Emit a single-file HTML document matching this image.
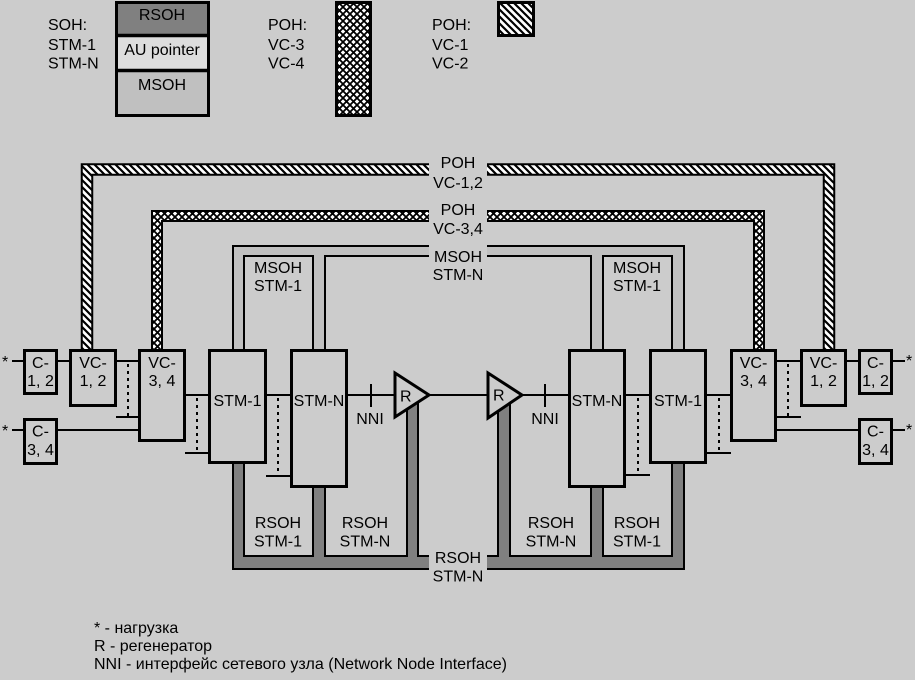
<!DOCTYPE html>
<html><head><meta charset="utf-8"><style>
html,body{margin:0;padding:0;background:#cccccc;width:915px;height:680px;overflow:hidden}
svg{display:block}
text{font-family:"Liberation Sans","DejaVu Sans",sans-serif;font-size:16px;fill:#000}
</style></head><body>
<svg width="915" height="680" viewBox="0 0 915 680" xmlns="http://www.w3.org/2000/svg">
<defs>
<pattern id="hat" width="7" height="7" patternUnits="userSpaceOnUse">
<rect width="7" height="7" fill="#fff"/>
<path d="M-2,-2 L9,9 M-2,5 L2,9 M5,-2 L9,2" stroke="#000" stroke-width="2.2"/>
</pattern>
<pattern id="crs" width="7" height="7" patternUnits="userSpaceOnUse">
<rect width="7" height="7" fill="#fff"/>
<path d="M0,0 L7,7 M7,0 L0,7" stroke="#000" stroke-width="1.8"/>
</pattern>
</defs>
<rect width="915" height="680" fill="#cccccc"/>

<!-- Legend -->
<text x="48" y="30">SOH:</text>
<text x="48" y="50">STM-1</text>
<text x="48" y="68.5">STM-N</text>
<rect x="116.5" y="2.5" width="92" height="33" fill="#808080"/>
<rect x="116.5" y="36" width="92" height="34" fill="#dddddd"/>
<rect x="116.5" y="70" width="92" height="45.5" fill="#c0c0c0"/>
<line x1="115" y1="35.5" x2="210" y2="35.5" stroke="#000" stroke-width="3.5"/>
<line x1="115" y1="70.5" x2="210" y2="70.5" stroke="#000" stroke-width="3.5"/>
<rect x="116.5" y="2.5" width="92" height="113" fill="none" stroke="#000" stroke-width="3"/>
<text x="162" y="20" text-anchor="middle">RSOH</text>
<text x="162" y="55" text-anchor="middle">AU pointer</text>
<text x="162" y="90" text-anchor="middle">MSOH</text>

<text x="268" y="30">POH:</text>
<text x="268" y="50">VC-3</text>
<text x="268" y="68.5">VC-4</text>
<rect x="336.5" y="2.5" width="34" height="113" fill="url(#crs)" stroke="#000" stroke-width="3"/>

<text x="432" y="30">POH:</text>
<text x="432" y="50">VC-1</text>
<text x="432" y="68.5">VC-2</text>
<rect x="498.5" y="2.5" width="35" height="33" fill="url(#hat)" stroke="#000" stroke-width="3"/>

<!-- POH pipes -->
<polyline points="87,352 87,169.5 829,169.5 829,352" fill="none" stroke="#000" stroke-width="12.5" stroke-linejoin="miter"/>
<polyline points="87,352 87,169.5 829,169.5 829,352" fill="none" stroke="url(#hat)" stroke-width="8.5" stroke-linejoin="miter"/>
<polyline points="157,352 157,216 759,216 759,352" fill="none" stroke="#000" stroke-width="12" stroke-linejoin="miter"/>
<polyline points="157,352 157,216 759,216 759,352" fill="none" stroke="url(#crs)" stroke-width="8" stroke-linejoin="miter"/>

<!-- MSOH bands -->
<g fill="#c0c0c0">
<rect x="233" y="246" width="451" height="10"/>
<rect x="233" y="246" width="11" height="104"/>
<rect x="313" y="256" width="12" height="94"/>
<rect x="591" y="256" width="12" height="94"/>
<rect x="672" y="246" width="12" height="104"/>
</g>
<g fill="none" stroke="#000" stroke-width="2">
<polyline points="233,350 233,246 684,246 684,350"/>
<polyline points="244,350 244,256 313,256 313,350"/>
<polyline points="325,350 325,256 591,256 591,350"/>
<polyline points="603,350 603,256 672,256 672,350"/>
</g>

<!-- RSOH bands -->
<g fill="#808080">
<rect x="233" y="556" width="451" height="13"/>
<rect x="233" y="462" width="11" height="100"/>
<rect x="313" y="486" width="12" height="76"/>
<rect x="407" y="398" width="11" height="164"/>
<rect x="498" y="398" width="12" height="164"/>
<rect x="591" y="486" width="12" height="76"/>
<rect x="672" y="462" width="12" height="100"/>
</g>
<g fill="none" stroke="#000" stroke-width="2">
<polyline points="233,462 233,569 684,569 684,462"/>
<polyline points="244,462 244,556 313,556 313,486"/>
<polyline points="325,486 325,556 407,556 407,398"/>
<polyline points="418,398 418,556 498,556 498,398"/>
<polyline points="510,398 510,556 591,556 591,486"/>
<polyline points="603,486 603,556 672,556 672,462"/>
</g>

<!-- label patches -->
<rect x="429" y="150" width="58" height="42" fill="#cccccc"/>
<rect x="429" y="198" width="58" height="40" fill="#cccccc"/>
<rect x="429" y="243" width="58" height="42" fill="#cccccc"/>
<rect x="429" y="548" width="58" height="38" fill="#cccccc"/>
<text x="458" y="168" text-anchor="middle">POH</text>
<text x="458" y="188" text-anchor="middle">VC-1,2</text>
<text x="458" y="215" text-anchor="middle">POH</text>
<text x="458" y="234" text-anchor="middle">VC-3,4</text>
<text x="458" y="262" text-anchor="middle">MSOH</text>
<text x="458" y="280" text-anchor="middle">STM-N</text>
<text x="458" y="563" text-anchor="middle">RSOH</text>
<text x="458" y="581.5" text-anchor="middle">STM-N</text>

<text x="278" y="273" text-anchor="middle">MSOH</text>
<text x="278" y="291" text-anchor="middle">STM-1</text>
<text x="637" y="273" text-anchor="middle">MSOH</text>
<text x="637" y="291" text-anchor="middle">STM-1</text>
<text x="278" y="528" text-anchor="middle">RSOH</text>
<text x="278" y="546.5" text-anchor="middle">STM-1</text>
<text x="365" y="528" text-anchor="middle">RSOH</text>
<text x="365" y="546.5" text-anchor="middle">STM-N</text>
<text x="551" y="528" text-anchor="middle">RSOH</text>
<text x="551" y="546.5" text-anchor="middle">STM-N</text>
<text x="637" y="528" text-anchor="middle">RSOH</text>
<text x="637" y="546.5" text-anchor="middle">STM-1</text>

<!-- connection lines -->
<g stroke="#000" stroke-width="2" fill="none">
<line x1="12" y1="361" x2="24" y2="361"/>
<line x1="57" y1="361" x2="70" y2="361"/>
<line x1="116" y1="361" x2="139" y2="361"/>
<line x1="116" y1="417" x2="139" y2="417"/>
<line x1="12" y1="430" x2="24" y2="430"/>
<line x1="57" y1="430" x2="139" y2="430"/>
<line x1="185" y1="395" x2="209" y2="395"/>
<line x1="185" y1="453" x2="209" y2="453"/>
<line x1="266" y1="395" x2="291" y2="395"/>
<line x1="266" y1="476" x2="291" y2="476"/>
<line x1="347" y1="395" x2="395" y2="395"/>
<line x1="430" y1="395" x2="488" y2="395"/>
<line x1="523" y1="395" x2="569" y2="395"/>
<line x1="371" y1="384" x2="371" y2="407"/>
<line x1="545" y1="384" x2="545" y2="407"/>
<line x1="625" y1="395" x2="650" y2="395"/>
<line x1="625" y1="475" x2="650" y2="475"/>
<line x1="706" y1="395" x2="731" y2="395"/>
<line x1="706" y1="453" x2="731" y2="453"/>
<line x1="776" y1="361" x2="801" y2="361"/>
<line x1="776" y1="417" x2="801" y2="417"/>
<line x1="846" y1="361" x2="859" y2="361"/>
<line x1="776" y1="430" x2="859" y2="430"/>
<line x1="892" y1="361" x2="905" y2="361"/>
<line x1="892" y1="430" x2="905" y2="430"/>
</g>
<g stroke="#000" stroke-width="2" stroke-dasharray="3,4" fill="none">
<line x1="128" y1="364" x2="128" y2="416"/>
<line x1="197" y1="398" x2="197" y2="452"/>
<line x1="278" y1="398" x2="278" y2="475"/>
<line x1="638" y1="398" x2="638" y2="474"/>
<line x1="719" y1="398" x2="719" y2="452"/>
<line x1="788" y1="364" x2="788" y2="416"/>
</g>

<!-- triangles -->
<polygon points="395,373 395,417 429,395" fill="#cccccc" stroke="#000" stroke-width="3" stroke-linejoin="miter"/>
<polygon points="488,373 488,418 522,395" fill="#cccccc" stroke="#000" stroke-width="3" stroke-linejoin="miter"/>
<text x="400" y="401.5">R</text>
<text x="493" y="400.5">R</text>
<text x="370" y="424" text-anchor="middle">NNI</text>
<text x="545" y="424" text-anchor="middle">NNI</text>

<!-- boxes -->
<g fill="#cccccc" stroke="#000" stroke-width="3">
<rect x="24.5" y="350.5" width="32" height="43"/>
<rect x="70.5" y="350.5" width="45" height="55"/>
<rect x="139.5" y="350.5" width="45" height="90"/>
<rect x="24.5" y="419.5" width="32" height="44"/>
<rect x="209.5" y="350.5" width="56" height="112"/>
<rect x="291.5" y="350.5" width="55" height="136"/>
<rect x="569.5" y="350.5" width="55" height="136"/>
<rect x="650.5" y="350.5" width="55" height="112"/>
<rect x="731.5" y="350.5" width="44" height="90"/>
<rect x="801.5" y="350.5" width="44" height="55"/>
<rect x="859.5" y="350.5" width="32" height="43"/>
<rect x="859.5" y="419.5" width="32" height="44"/>
</g>
<text x="40.5" y="368" text-anchor="middle">C-</text>
<text x="40.5" y="386" text-anchor="middle">1, 2</text>
<text x="93" y="368" text-anchor="middle">VC-</text>
<text x="93" y="386" text-anchor="middle">1, 2</text>
<text x="162" y="368" text-anchor="middle">VC-</text>
<text x="162" y="386" text-anchor="middle">3, 4</text>
<text x="40.5" y="436.5" text-anchor="middle">C-</text>
<text x="40.5" y="455" text-anchor="middle">3, 4</text>
<text x="237.5" y="406" text-anchor="middle">STM-1</text>
<text x="319" y="406" text-anchor="middle">STM-N</text>
<text x="597" y="406" text-anchor="middle">STM-N</text>
<text x="678" y="406" text-anchor="middle">STM-1</text>
<text x="753.5" y="368" text-anchor="middle">VC-</text>
<text x="753.5" y="386" text-anchor="middle">3, 4</text>
<text x="823.5" y="368" text-anchor="middle">VC-</text>
<text x="823.5" y="386" text-anchor="middle">1, 2</text>
<text x="875.5" y="368" text-anchor="middle">C-</text>
<text x="875.5" y="386" text-anchor="middle">1, 2</text>
<text x="875.5" y="436.5" text-anchor="middle">C-</text>
<text x="875.5" y="455" text-anchor="middle">3, 4</text>

<text x="2" y="367">*</text>
<text x="2" y="436">*</text>
<text x="906" y="366">*</text>
<text x="906" y="435">*</text>

<!-- bottom legend -->
<text x="94" y="633">* - нагрузка</text>
<text x="94" y="651">R - регенератор</text>
<text x="94" y="669">NNI - интерфейс сетевого узла (Network Node Interface)</text>
</svg>
</body></html>
